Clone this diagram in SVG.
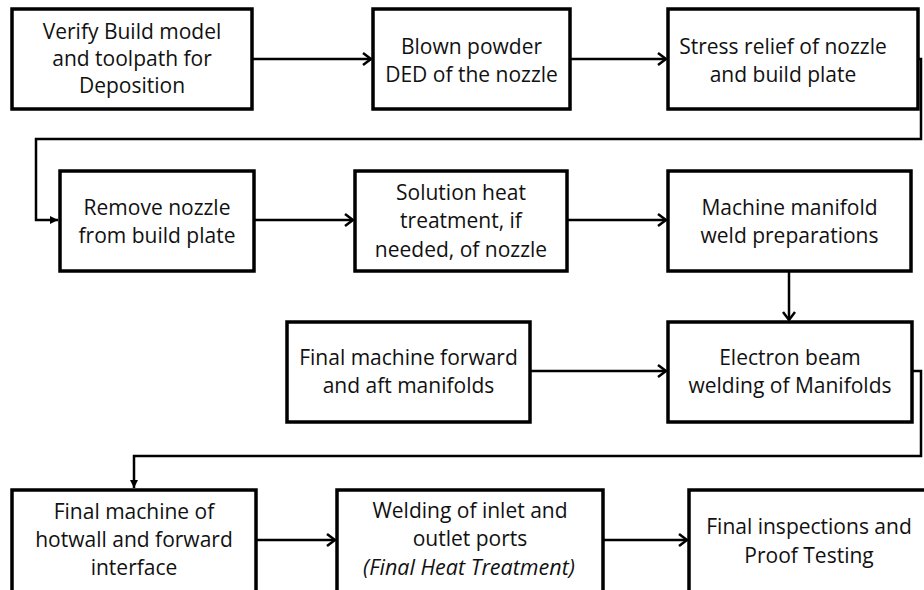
<svg xmlns="http://www.w3.org/2000/svg" width="924" height="590" viewBox="0 0 924 590">
<defs>
<marker id="chev" markerUnits="userSpaceOnUse" markerWidth="14" markerHeight="16" refX="11" refY="8" orient="auto" overflow="visible">
<path d="M3,2 L11,8 L3,14" fill="none" stroke="#000" stroke-width="2.5"/>
</marker>
<marker id="tri" markerUnits="userSpaceOnUse" markerWidth="10" markerHeight="10" refX="8" refY="5" orient="auto" overflow="visible">
<path d="M0,1 L8,5 L0,9 Z" fill="#000"/>
</marker>
<style>
.box{fill:#fff;stroke:#000;stroke-width:3.5}
.t{font-family:"Open Sans","Noto Sans",sans-serif;font-size:21px;fill:#111;text-anchor:middle}
.it{font-style:italic;font-size:21.5px}
.c{fill:none;stroke:#000;stroke-width:2.5}
</style>
</defs>
<rect width="924" height="590" fill="#fff"/>
<g id="connectors">
<line class="c" x1="252" y1="59" x2="371" y2="59" marker-end="url(#chev)"/>
<line class="c" x1="570" y1="59" x2="666" y2="59" marker-end="url(#chev)"/>
<polyline class="c" points="918,59 921,59 921,139 36,139 36,220 58,220" marker-end="url(#tri)"/>
<line class="c" x1="254" y1="220" x2="353" y2="220" marker-end="url(#chev)"/>
<line class="c" x1="567" y1="220" x2="666" y2="220" marker-end="url(#chev)"/>
<line class="c" x1="789" y1="271" x2="789" y2="320" marker-end="url(#chev)"/>
<line class="c" x1="530" y1="371" x2="666" y2="371" marker-end="url(#chev)"/>
<polyline class="c" points="912,371 921,371 921,456 134,456 134,488" marker-end="url(#tri)"/>
<line class="c" x1="256" y1="540" x2="335" y2="540" marker-end="url(#chev)"/>
<line class="c" x1="603" y1="540" x2="687" y2="540" marker-end="url(#chev)"/>
</g>
<g id="n1"><rect class="box" x="12" y="9" width="240" height="100"/>
<text class="t" x="132" y="39">Verify Build model</text><text class="t" x="132" y="66">and toolpath for</text><text class="t" x="132" y="93">Deposition</text></g>
<g id="n2"><rect class="box" x="373" y="9" width="197" height="100"/>
<text class="t" x="471.5" y="54">Blown powder</text><text class="t" x="471.5" y="82">DED of the nozzle</text></g>
<g id="n3"><rect class="box" x="668" y="9" width="250" height="100"/>
<text class="t" x="783" y="54">Stress relief of nozzle</text><text class="t" x="783" y="82">and build plate</text></g>
<g id="n4"><rect class="box" x="60" y="171" width="194" height="100"/>
<text class="t" x="157" y="215">Remove nozzle</text><text class="t" x="157" y="243">from build plate</text></g>
<g id="n5"><rect class="box" x="355" y="171" width="212" height="100"/>
<text class="t" x="461" y="200">Solution heat</text><text class="t" x="461" y="228">treatment, if</text><text class="t" x="461" y="257">needed, of nozzle</text></g>
<g id="n6"><rect class="box" x="668" y="171" width="243" height="100"/>
<text class="t" x="789.5" y="215">Machine manifold</text><text class="t" x="789.5" y="243">weld preparations</text></g>
<g id="n7"><rect class="box" x="287" y="322" width="243" height="100"/>
<text class="t" x="408.5" y="365">Final machine forward</text><text class="t" x="408.5" y="393">and aft manifolds</text></g>
<g id="n8"><rect class="box" x="668" y="322" width="244" height="100"/>
<text class="t" x="790" y="365">Electron beam</text><text class="t" x="790" y="393">welding of Manifolds</text></g>
<g id="n9"><rect class="box" x="12" y="490" width="244" height="110"/>
<text class="t" x="134" y="519">Final machine of</text><text class="t" x="134" y="547">hotwall and forward</text><text class="t" x="134" y="575">interface</text></g>
<g id="n10"><rect class="box" x="337" y="490" width="266" height="110"/>
<text class="t" x="470" y="518">Welding of inlet and</text><text class="t" x="470" y="546">outlet ports</text><text class="t it" x="469" y="575">(Final Heat Treatment)</text></g>
<g id="n11"><rect class="box" x="689" y="490" width="245" height="110"/>
<text class="t" x="809" y="534">Final inspections and</text><text class="t" x="809" y="563">Proof Testing</text></g>
</svg>
